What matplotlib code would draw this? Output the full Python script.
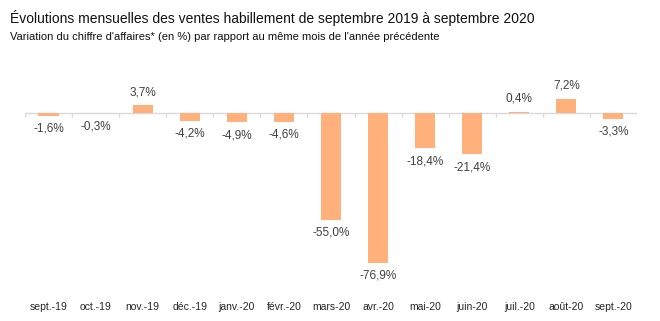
import matplotlib.pyplot as plt
import numpy as np

plt.rcParams['font.family'] = ['Liberation Sans', 'DejaVu Sans']

mois = ['sept.-19', 'oct.-19', 'nov.-19', 'déc.-19', 'janv.-20', 'févr.-20', 'mars-20',
        'avr.-20', 'mai-20', 'juin-20', 'juil.-20', 'août-20', 'sept.-20']
variation = [-1.6, -0.3, 3.7, -4.2, -4.9, -4.6, -55.0, -76.9, -18.4, -21.4, 0.4, 7.2, -3.3]

fig = plt.figure(figsize=(6.6, 3.21), dpi=100)
ax = fig.add_axes([0.038, 0.072, 0.927, 0.638])

x = np.arange(len(mois))
ax.bar(x, variation, width=0.43, color='#FFB07B', zorder=2)

ax.set_xlim(-0.5, len(mois) - 0.5)
ax.set_ylim(-95, 10)

# zero line + category boundary ticks
ax.axhline(0, color='#d9d9d9', linewidth=1, zorder=1)
ax.vlines(np.arange(len(mois) + 1) - 0.5, -2.5, 0, color='#d9d9d9', linewidth=1, zorder=1)

for xi, v in zip(x, variation):
    label = f'{v:.1f}%'.replace('.', ',')
    if v >= 0:
        ax.annotate(label, (xi, v), xytext=(0, 5), textcoords='offset points',
                    ha='center', va='bottom', fontsize=8.5, color='#404040')
    else:
        ax.annotate(label, (xi, v), xytext=(0, -5), textcoords='offset points',
                    ha='center', va='top', fontsize=8.5, color='#404040')

ax.set_xticks(x)
ax.set_xticklabels(mois, fontsize=7.5, color='#262626')
ax.tick_params(axis='x', length=0, pad=3)
ax.set_yticks([])
for s in ax.spines.values():
    s.set_visible(False)

fig.text(0.015, 0.945, 'Évolutions mensuelles des ventes habillement de septembre 2019 à septembre 2020',
         fontsize=10, color='#111111', va='center')
fig.text(0.015, 0.885, "Variation du chiffre d'affaires* (en %) par rapport au même mois de l'année précédente",
         fontsize=8.05, color='#111111', va='center')

fig.savefig('out.png', dpi=100)
